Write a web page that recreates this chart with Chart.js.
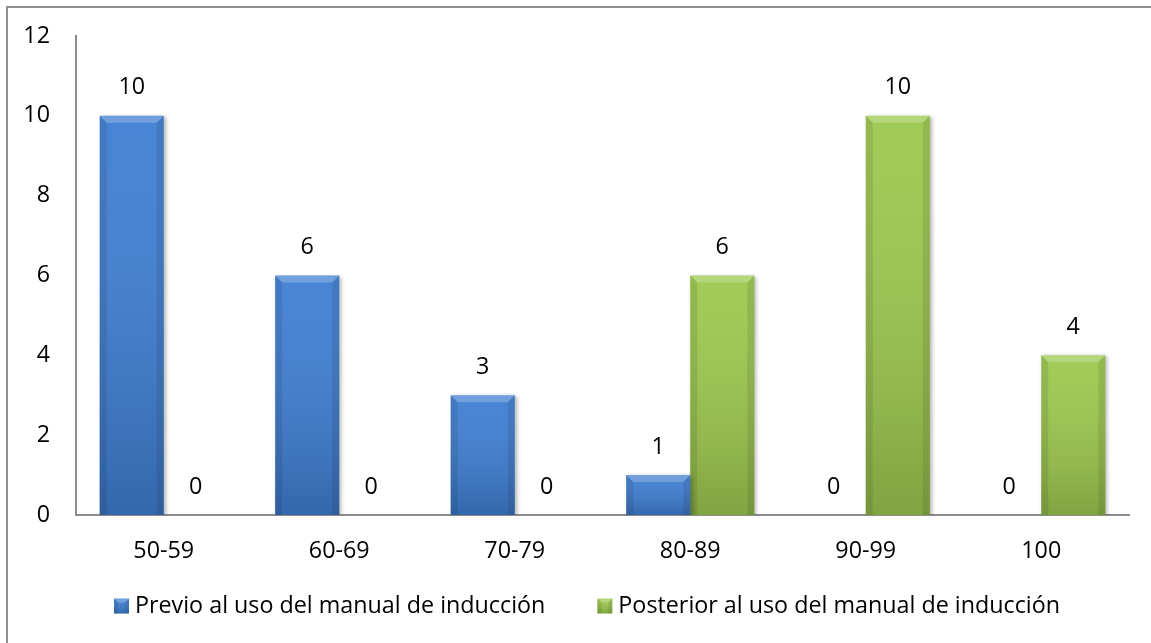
<!DOCTYPE html>
<html>
<head>
<meta charset="utf-8">
<script src="https://cdn.jsdelivr.net/npm/chart.js@4.4.1/dist/chart.umd.min.js"></script>
<style>
  html, body { margin: 0; padding: 0; background: #fff; }
  #wrap { position: relative; width: 1151px; height: 643px; overflow: hidden; }
  #frame { position: absolute; left: 6px; top: 6px; width: 1200px; height: 700px; border: 2px solid #8e8e8e; }
  #chart { position: absolute; left: 0; top: 0; }
</style>
</head>
<body>
<div id="wrap">
  <div id="frame"></div>
  <canvas id="chart" width="1151" height="643"></canvas>
</div>
<script>
const categories = ['50-59', '60-69', '70-79', '80-89', '90-99', '100'];
const previo = [10, 6, 3, 1, 0, 0];
const posterior = [0, 0, 0, 6, 10, 4];
const seriesNames = ['Previo al uso del manual de inducción', 'Posterior al uso del manual de inducción'];
const yTicks = [0, 2, 4, 6, 8, 10, 12];

const FONT = '"Open Sans", Lato, sans-serif';
const FSIZE = 23.3;
const colors = ['#3f7ed2', '#9cc84e'];

// bevel + shading on each bar, like the office chart
function bevel(ctx, l, t, r, b, size) {
  const h = b - t;
  if (h <= 0) return;
  const s = Math.min(size, h / 2, (r - l) / 2);
  const g = ctx.createLinearGradient(0, t, 0, b);
  g.addColorStop(0, 'rgba(255,255,255,0.05)');
  g.addColorStop(1, 'rgba(0,0,0,0.18)');
  ctx.fillStyle = g;
  ctx.fillRect(l, t, r - l, h);
  // top
  ctx.fillStyle = 'rgba(255,255,255,0.22)';
  ctx.beginPath();
  ctx.moveTo(l, t); ctx.lineTo(r, t); ctx.lineTo(r - s, t + s); ctx.lineTo(l + s, t + s);
  ctx.closePath(); ctx.fill();
  // sides
  ctx.fillStyle = 'rgba(0,0,0,0.09)';
  ctx.beginPath();
  ctx.moveTo(l, t); ctx.lineTo(l + s, t + s); ctx.lineTo(l + s, b); ctx.lineTo(l, b);
  ctx.closePath(); ctx.fill();
  ctx.beginPath();
  ctx.moveTo(r, t); ctx.lineTo(r - s, t + s); ctx.lineTo(r - s, b); ctx.lineTo(r, b);
  ctx.closePath(); ctx.fill();
}

const barStyle = {
  id: 'barStyle',
  beforeDatasetsDraw(chart) {
    const ctx = chart.ctx;
    ctx.save();
    ctx.shadowColor = 'rgba(0,0,0,0.3)';
    ctx.shadowBlur = 4;
    ctx.shadowOffsetX = 2;
    ctx.shadowOffsetY = 1;
  },
  afterDatasetsDraw(chart) {
    const ctx = chart.ctx;
    ctx.restore();
    ctx.save();
    chart.data.datasets.forEach((ds, i) => {
      chart.getDatasetMeta(i).data.forEach((bar, j) => {
        const w = bar.width;
        bevel(ctx, bar.x - w / 2, bar.y, bar.x + w / 2, bar.base, 7);
        // value label
        ctx.fillStyle = '#000';
        ctx.font = FSIZE + 'px ' + FONT;
        ctx.textAlign = 'center';
        ctx.textBaseline = 'middle';
        ctx.fillText(String(ds.data[j]), bar.x, bar.y - 28);
      });
    });
    ctx.restore();
  }
};

const legendDraw = {
  id: 'legendDraw',
  afterDraw(chart) {
    const ctx = chart.ctx;
    ctx.save();
    ctx.font = FSIZE + 'px ' + FONT;
    const box = 15, gapText = 6, gapItem = 52;
    const widths = seriesNames.map(t => ctx.measureText(t).width);
    const total = widths.reduce((a, w) => a + box + gapText + w, 0) + gapItem;
    let x = 587 - total / 2;
    const yc = 606;
    seriesNames.forEach((t, i) => {
      ctx.fillStyle = colors[i];
      ctx.fillRect(x, yc - box / 2, box, box);
      bevel(ctx, x, yc - box / 2, x + box, yc + box / 2, 4);
      ctx.fillStyle = '#000';
      ctx.textAlign = 'left';
      ctx.textBaseline = 'middle';
      ctx.fillText(t, x + box + gapText, yc);
      x += box + gapText + widths[i] + gapItem;
    });
    ctx.restore();
  }
};

new Chart(document.getElementById('chart'), {
  type: 'bar',
  data: {
    labels: categories,
    datasets: [
      { label: seriesNames[0], data: previo, backgroundColor: colors[0], borderWidth: 0 },
      { label: seriesNames[1], data: posterior, backgroundColor: colors[1], borderWidth: 0 }
    ]
  },
  options: {
    responsive: false,
    animation: false,
    events: [],
    layout: { padding: { left: 0, top: 36, right: 22, bottom: 56 } },
    datasets: { bar: { barPercentage: 1, categoryPercentage: 0.73 } },
    plugins: { legend: { display: false }, tooltip: { enabled: false } },
    scales: {
      x: {
        grid: { display: false, drawTicks: false },
        border: { color: '#8c8c8c', width: 2 },
        ticks: { color: '#000', font: { family: FONT, size: FSIZE }, padding: 22, maxRotation: 0 }
      },
      y: {
        min: 0, max: 12,
        afterFit(scale) {
          scale.width = 76;
          scale.paddingTop = 0;
          scale.paddingBottom = 0;
        },
        afterBuildTicks(scale) { scale.ticks = yTicks.map(v => ({ value: v })); },
        grid: { display: false, drawTicks: false },
        border: { color: '#8c8c8c', width: 2 },
        ticks: { color: '#000', font: { family: FONT, size: FSIZE }, padding: 26 }
      }
    }
  },
  plugins: [barStyle, legendDraw]
});
</script>
</body>
</html>
